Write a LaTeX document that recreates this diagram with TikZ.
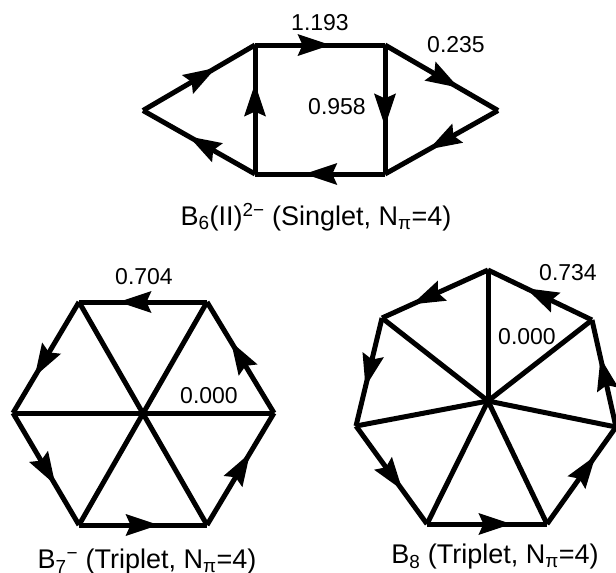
\documentclass[tikz,border=0pt]{standalone}
\usepackage{fontspec}
\setmainfont{Liberation Sans}
\usetikzlibrary{arrows.meta,decorations.markings}

\begin{document}
\begin{tikzpicture}[
    x=1pt, y=-1pt,
    bond/.style={line width=5pt, line join=miter, black},
    arrow/.style={bond, postaction={decorate}, decoration={markings,
                  mark=at position #1 with {\pgftransformxshift{4pt}\arrow{Stealth[length=33pt,width=22pt,inset=5pt,line width=0pt]}}}},
    value/.style={font=\fontsize{23}{26}\selectfont, inner sep=0pt},
    caption/.style={font=\fontsize{27}{30}\selectfont, inner sep=0pt}
  ]
  \useasboundingbox (0,0) rectangle (616,573);
  % B6(II)
  \coordinate (sl) at (143,110.5);
  \coordinate (stl) at (255,45);
  \coordinate (str) at (385,45);
  \coordinate (sr) at (498,110.5);
  \coordinate (sbr) at (385,174);
  \coordinate (sbl) at (255,174);
  \draw[arrow=0.62] (sl) -- (stl);
  \draw[arrow=0.55] (stl) -- (str);
  \draw[arrow=0.62] (str) -- (sr);
  \draw[arrow=0.58] (sr) -- (sbr);
  \draw[arrow=0.59] (sbr) -- (sbl);
  \draw[arrow=0.56] (sbl) -- (sl);
  \draw[arrow=0.67] (sbl) -- (stl);
  \draw[arrow=0.60] (str) -- (sbr);
  \node[value] (s1) at (320,23) {1.193};
  \node[value] (s2) at (456,45) {0.235};
  \node[value] (s3) at (337,107) {0.958};
  \node[caption] (scap) at (316,217) {B\textsubscript{6}(II)\textsuperscript{2−} (Singlet, N\textsubscript{π}=4)};
  % B7-
  \coordinate (hc) at (143,413);
  \coordinate (hl) at (13,413);
  \coordinate (hr) at (274,413);
  \coordinate (htl) at (79,302);
  \coordinate (htr) at (207,302);
  \coordinate (hbl) at (79,525);
  \coordinate (hbr) at (207,525);
  \draw[arrow=0.66] (htr) -- (htl);
  \draw[arrow=0.64] (htl) -- (hl);
  \draw[arrow=0.61] (hl) -- (hbl);
  \draw[arrow=0.59] (hbl) -- (hbr);
  \draw[arrow=0.61] (hbr) -- (hr);
  \draw[arrow=0.61] (hr) -- (htr);
  \draw[bond] (hl) -- (hr);
  \draw[bond] (htl) -- (hbr);
  \draw[bond] (htr) -- (hbl);
  \node[value] (h1) at (144,277) {0.704};
  \node[value] (h2) at (209,396) {0.000};
  \node[caption] (hcap) at (147,562) {B\textsubscript{7}\textsuperscript{−} (Triplet, N\textsubscript{π}=4)};
  % B8
  \coordinate (oc) at (488,401);
  \coordinate (ot) at (488,270);
  \coordinate (otr) at (592,320);
  \coordinate (or) at (616,427);
  \coordinate (obr) at (547,524);
  \coordinate (obl) at (427,524);
  \coordinate (ol) at (356,426);
  \coordinate (otl) at (382,318);
  \draw[arrow=0.60] (otr) -- (ot);
  \draw[arrow=0.68] (ot) -- (otl);
  \draw[arrow=0.60] (otl) -- (ol);
  \draw[arrow=0.62] (ol) -- (obl);
  \draw[arrow=0.67] (obl) -- (obr);
  \draw[arrow=0.67] (obr) -- (or);
  \draw[arrow=0.61] (or) -- (otr);
  \draw[bond] (oc) -- (ot);
  \draw[bond] (oc) -- (otr);
  \draw[bond] (oc) -- (or);
  \draw[bond] (oc) -- (obr);
  \draw[bond] (oc) -- (obl);
  \draw[bond] (oc) -- (ol);
  \draw[bond] (oc) -- (otl);
  \node[value] (o1) at (568,273) {0.734};
  \node[value] (o2) at (527,337) {0.000};
  \node[caption] (ocap) at (495,557) {B\textsubscript{8} (Triplet, N\textsubscript{π}=4)};
\end{tikzpicture}
\end{document}
